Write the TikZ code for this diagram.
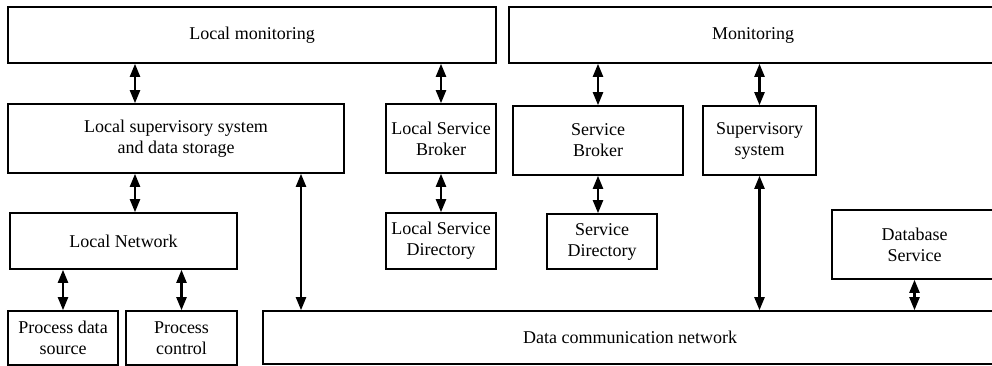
\documentclass[tikz,border=0pt]{standalone}
\usepackage{fontspec}
\setmainfont{Liberation Serif}
\usetikzlibrary{arrows.meta}
\tikzset{
  blk/.style={draw, line width=1.6pt, align=center, inner sep=0pt,
    font=\fontsize{18pt}{21pt}\selectfont},
  link/.style={{Triangle[length=13pt,width=10pt]}-{Triangle[length=13pt,width=10pt]}, line width=2.2pt}
}
\begin{document}
\begin{tikzpicture}[x=1pt,y=-1pt]
	\clip (0,0) rectangle (992,366);
	%Monitoring
	\node[blk, minimum width=488pt, minimum height=56pt] (lmon) at (252,35) {Local monitoring};
	\node[blk, minimum width=488pt, minimum height=56pt] (mon) at (753,35) {Monitoring};
	%Hang 2
	\node[blk, minimum width=336pt, minimum height=69pt] (lsup) at (176,138.5) {Local supervisory system\\and data storage};
	\node[blk, minimum width=110pt, minimum height=69pt] (lsb) at (441,138.5) {Local Service\\Broker};
	\node[blk, minimum width=170pt, minimum height=69pt] (sb) at (598,140.5) {Service\\Broker};
	\node[blk, minimum width=113pt, minimum height=69pt] (sup) at (759.5,140.5) {Supervisory\\system};
	%Hang 3
	\node[blk, minimum width=227pt, minimum height=56pt] (lnet) at (123.5,241) {Local Network};
	\node[blk, minimum width=110pt, minimum height=56pt] (lsd) at (441,241) {Local Service\\Directory};
	\node[blk, minimum width=110pt, minimum height=55pt] (sd) at (602,241.5) {Service\\Directory};
	\node[blk, minimum width=165pt, minimum height=69pt] (db) at (914.5,244.5) {Database\\Service};
	%Hang 4
	\node[blk, minimum width=110pt, minimum height=54pt] (pds) at (63,338) {Process data\\source};
	\node[blk, minimum width=111pt, minimum height=54pt] (pc) at (181.5,338) {Process\\control};
	\node[blk, minimum width=734pt, minimum height=53pt] (dcn) at (630,337.5) {Data communication network};
	%Mui ten
	\draw[link] ([xshift=-41pt]lsup.north) -- ([xshift=-41pt]lsup.north |- lmon.south);
	\draw[link] (lsb.north) -- (lsb.north |- lmon.south);
	\draw[link] (sb.north) -- (sb.north |- mon.south);
	\draw[link] (sup.north) -- (sup.north |- mon.south);
	\draw[link] ([xshift=-41pt]lsup.south) -- ([xshift=-41pt]lsup.south |- lnet.north);
	\draw[link] ([xshift=125pt]lsup.south) -- ([xshift=125pt]lsup.south |- dcn.north);
	\draw[link] (lsb.south) -- (lsd.north);
	\draw[link] (sb.south) -- (sb.south |- sd.north);
	\draw[link] (sup.south) -- (sup.south |- dcn.north);
	\draw[link] (pds.north) -- (pds.north |- lnet.south);
	\draw[link] (pc.north) -- (pc.north |- lnet.south);
	\draw[link] (db.south) -- (db.south |- dcn.north);
\end{tikzpicture}
\end{document}
